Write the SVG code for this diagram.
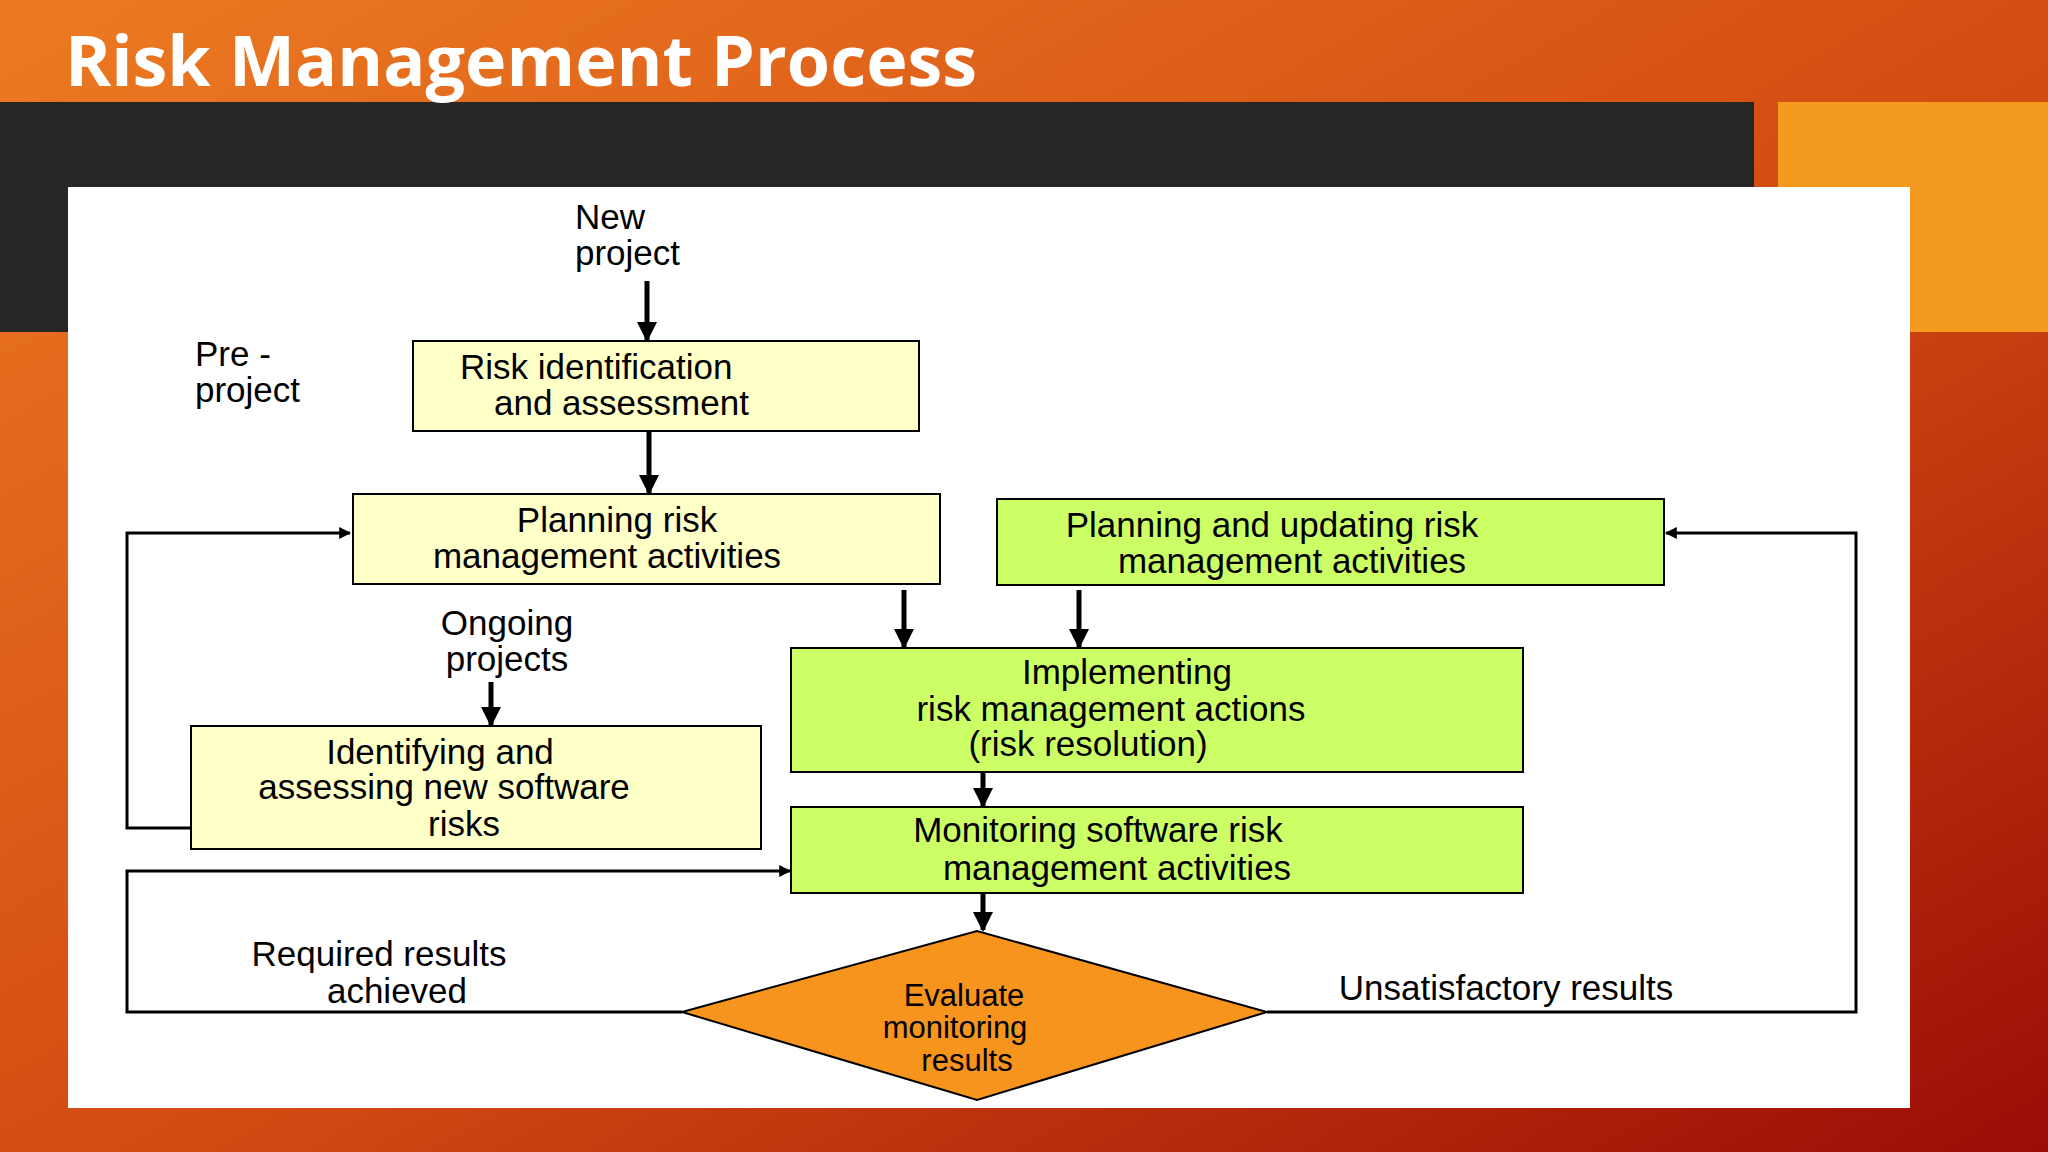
<svg xmlns="http://www.w3.org/2000/svg" width="2048" height="1152" viewBox="0 0 2048 1152">
<defs>
<linearGradient id="bg" x1="0" y1="0" x2="1" y2="1">
<stop offset="0" stop-color="#ec7a22"/><stop offset="0.55" stop-color="#d24a12"/><stop offset="1" stop-color="#9a0c06"/>
</linearGradient>
<marker id="ah" viewBox="0 0 10 10" refX="9" refY="5" markerWidth="4" markerHeight="4" orient="auto"><path d="M0,0 L10,5 L0,10 z" fill="#000"/></marker>
<style>
.t{font-family:"Liberation Sans",Arial,sans-serif;font-size:35px;fill:#000}
.c{text-anchor:middle}
.y{fill:#ffffc8;stroke:#000;stroke-width:2}
.g{fill:#ccff66;stroke:#000;stroke-width:2}
.l{fill:none;stroke:#000;stroke-width:3}
.v{fill:none;stroke:#000;stroke-width:5}
</style>
</defs>
<rect width="2048" height="1152" fill="url(#bg)"/>
<rect x="0" y="102" width="1754" height="230" fill="#262626"/>
<rect x="1778" y="102" width="270" height="230" fill="#f39a1f"/>
<text x="65" y="86" font-family="'Open Sans','DejaVu Sans',sans-serif" font-weight="bold" font-size="70" fill="#fff">Risk Management Process</text>
<rect x="68" y="187" width="1842" height="921" fill="#fff"/>
<g id="connectors">
<line class="v" x1="647" y1="281" x2="647" y2="340" marker-end="url(#ah)"/>
<line class="v" x1="649" y1="431" x2="649" y2="493" marker-end="url(#ah)"/>
<line class="v" x1="904" y1="590" x2="904" y2="647" marker-end="url(#ah)"/>
<line class="v" x1="1079" y1="590" x2="1079" y2="647" marker-end="url(#ah)"/>
<line class="v" x1="491" y1="682" x2="491" y2="725" marker-end="url(#ah)"/>
<line class="v" x1="983" y1="772" x2="983" y2="806" marker-end="url(#ah)"/>
<line class="v" x1="983" y1="893" x2="983" y2="930" marker-end="url(#ah)"/>
<polyline class="l" points="191,828 127,828 127,533 350,533" marker-end="url(#ah)"/>
<polyline class="l" points="682,1012 127,1012 127,871 790,871" marker-end="url(#ah)"/>
<polyline class="l" points="1267,1012 1856,1012 1856,533 1666,533" marker-end="url(#ah)"/>
</g>
<text class="t" x="575" y="229">New</text><text class="t" x="575" y="265">project</text>
<text class="t" x="195" y="366">Pre -</text><text class="t" x="195" y="402">project</text>
<g id="n1"><rect class="y" x="413" y="341" width="506" height="90"/>
<text class="t" x="460" y="379">Risk identification</text><text class="t" x="494" y="415">and assessment</text></g>
<g id="n2"><rect class="y" x="353" y="494" width="587" height="90"/>
<text class="t c" x="617" y="532">Planning risk</text><text class="t c" x="607" y="568">management activities</text></g>
<g id="n3"><rect class="g" x="997" y="499" width="667" height="86"/>
<text class="t c" x="1272" y="537">Planning and updating risk</text><text class="t c" x="1292" y="573">management activities</text></g>
<text class="t c" x="507" y="635">Ongoing</text><text class="t c" x="507" y="671">projects</text>
<g id="n4"><rect class="g" x="791" y="648" width="732" height="124"/>
<text class="t c" x="1127" y="684">Implementing</text><text class="t c" x="1111" y="721">risk management actions</text><text class="t c" x="1088" y="756">(risk resolution)</text></g>
<g id="n5"><rect class="y" x="191" y="726" width="570" height="123"/>
<text class="t c" x="440" y="764">Identifying and</text><text class="t c" x="444" y="799">assessing new software</text><text class="t c" x="464" y="836">risks</text></g>
<g id="n6"><rect class="g" x="791" y="807" width="732" height="86"/>
<text class="t c" x="1098" y="842">Monitoring software risk</text><text class="t c" x="1117" y="880">management activities</text></g>
<g id="n7"><polygon points="682,1012 977,931 1267,1012 977,1100" fill="#f7941d" stroke="#000" stroke-width="2"/>
<text class="t c" x="964" y="1006" style="font-size:31px">Evaluate</text><text class="t c" x="955" y="1038" style="font-size:31px">monitoring</text><text class="t c" x="967" y="1071" style="font-size:31px">results</text></g>
<text class="t c" x="379" y="966">Required results</text><text class="t c" x="397" y="1003">achieved</text>
<text class="t c" x="1506" y="1000">Unsatisfactory results</text>
</svg>
